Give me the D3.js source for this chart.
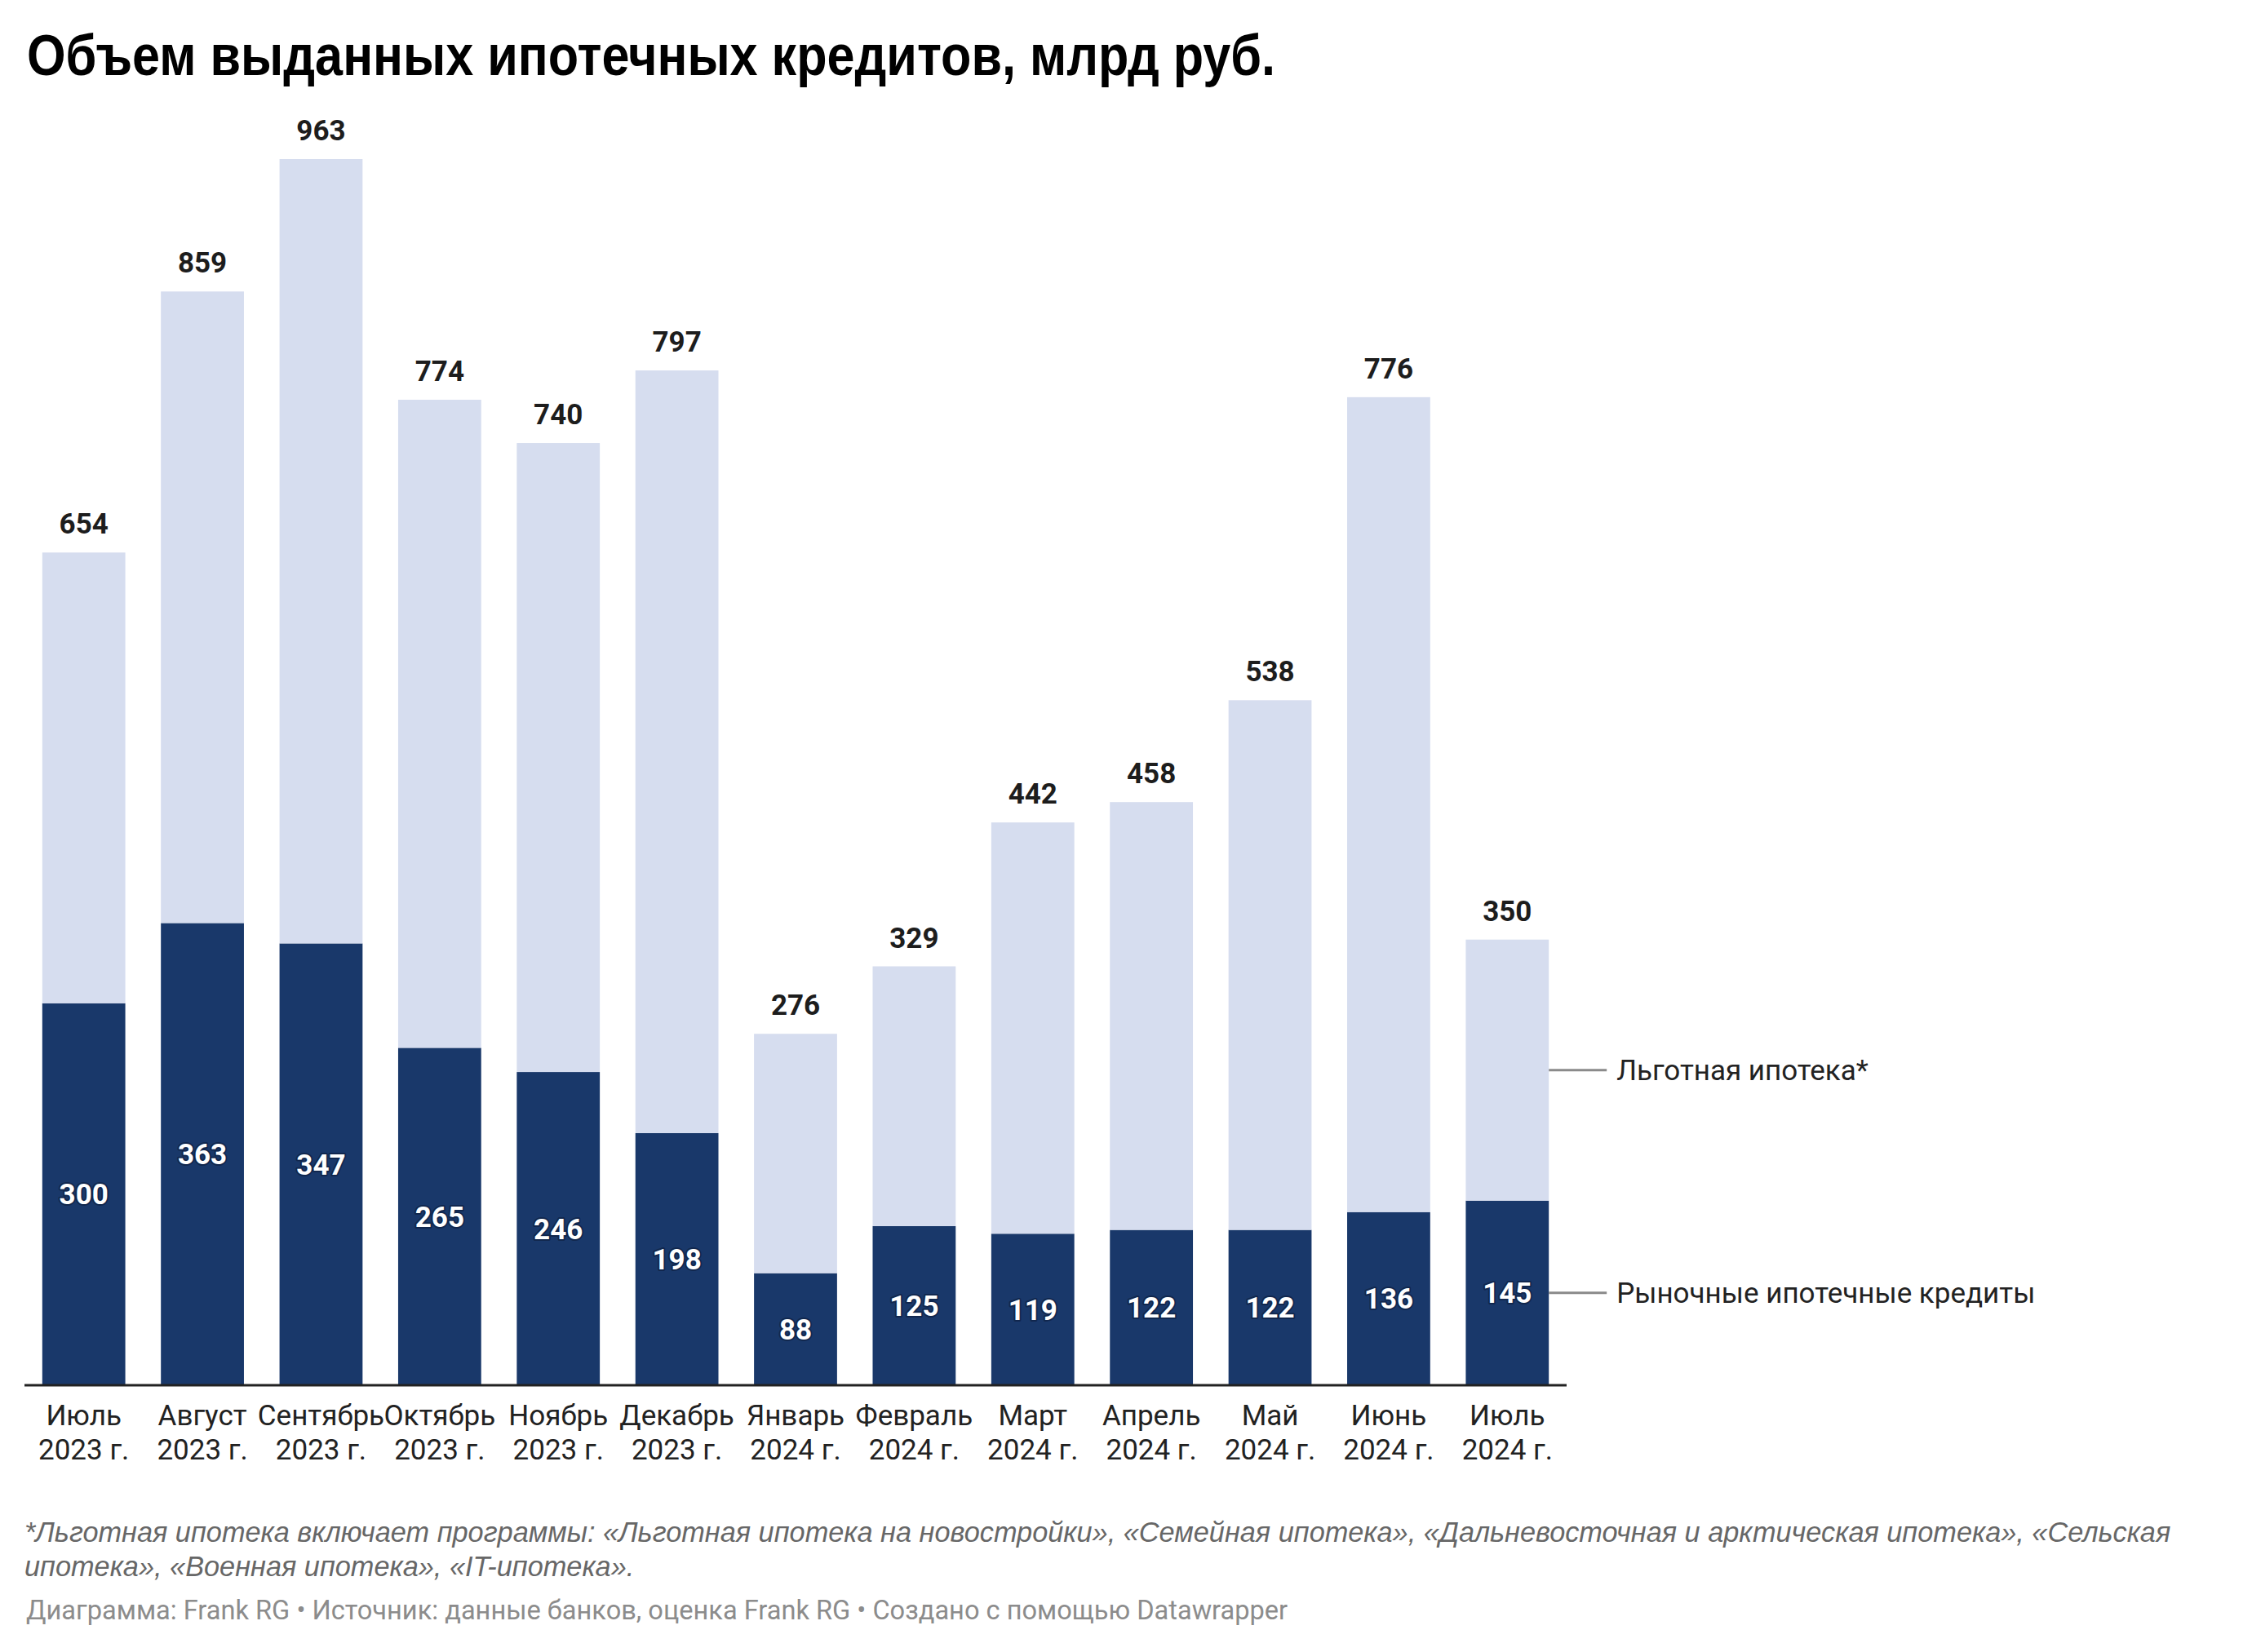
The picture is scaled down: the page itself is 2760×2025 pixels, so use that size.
<!DOCTYPE html>
<html>
<head>
<meta charset="utf-8">
<script src="https://cdn.jsdelivr.net/npm/d3@7"></script>
<style>
  html, body { margin: 0; padding: 0; background: #fff; }
  svg { display: block; }
  .inlabel { paint-order: stroke; }
</style>
</head>
<body>
<svg id="chart" width="2760" height="2025"></svg>
<script>
// ---- data ----
const months = ["Июль","Август","Сентябрь","Октябрь","Ноябрь","Декабрь","Январь","Февраль","Март","Апрель","Май","Июнь","Июль"];
const years  = ["2023 г.","2023 г.","2023 г.","2023 г.","2023 г.","2023 г.","2024 г.","2024 г.","2024 г.","2024 г.","2024 г.","2024 г.","2024 г."];
const market       = [300, 363, 347, 265, 246, 198, 88, 125, 119, 122, 122, 136, 145];
const preferential = [354, 496, 616, 509, 494, 599, 188, 204, 323, 336, 416, 640, 205];
const seriesNames  = ["Рыночные ипотечные кредиты", "Льготная ипотека*"];
const seriesColors = ["#19386a", "#d6ddef"];
const titleText = "Объем выданных ипотечных кредитов, млрд руб.";
const noteLines = [
  "*Льготная ипотека включает программы: «Льготная ипотека на новостройки», «Семейная ипотека», «Дальневосточная и арктическая ипотека», «Сельская",
  "ипотека», «Военная ипотека», «IT-ипотека»."
];
const sourceText = "Диаграмма: Frank RG • Источник: данные банков, оценка Frank RG • Создано с помощью Datawrapper";

// ---- layout ----
const svg = d3.select("#chart");
const plot = { left: 30, right: 1920, top: 195, bottom: 1698 };

const rows = months.map((m, i) => ({ key: i, month: m, year: years[i], market: market[i], preferential: preferential[i] }));
const stacked = d3.stack().keys(["market", "preferential"])(rows);
const totals = rows.map(r => r.market + r.preferential);

const x = d3.scaleBand().domain(rows.map(r => r.key)).range([plot.left, plot.right])
  .paddingInner(0.3).paddingOuter(0.15);
const y = d3.scaleLinear().domain([0, d3.max(totals)]).range([plot.bottom, plot.top]);

// title
svg.append("text")
  .attr("x", 33).attr("y", 92)
  .attr("font-family", "'Liberation Sans', Arial, sans-serif")
  .attr("font-weight", 700).attr("font-size", 71)
  .attr("fill", "#000")
  .attr("textLength", 1530).attr("lengthAdjust", "spacingAndGlyphs")
  .text(titleText);

// bars
svg.append("g").selectAll("g.layer").data(stacked).join("g")
  .attr("class", "layer")
  .attr("fill", (d, i) => seriesColors[i])
  .selectAll("rect").data(d => d).join("rect")
  .attr("x", d => x(d.data.key))
  .attr("width", x.bandwidth())
  .attr("y", d => y(d[1]))
  .attr("height", d => y(d[0]) - y(d[1]));

// total labels
svg.append("g").selectAll("text").data(rows).join("text")
  .attr("x", d => x(d.key) + x.bandwidth() / 2)
  .attr("y", (d, i) => y(totals[i]) - 23)
  .attr("text-anchor", "middle")
  .attr("font-family", "Roboto, sans-serif")
  .attr("font-weight", 700).attr("font-size", 35)
  .attr("fill", "#1d1d1d")
  .text((d, i) => totals[i]);

// market labels inside dark segment
svg.append("g").selectAll("text").data(stacked[0]).join("text")
  .attr("class", "inlabel")
  .attr("x", d => x(d.data.key) + x.bandwidth() / 2)
  .attr("y", d => (y(d[0]) + y(d[1])) / 2)
  .attr("dy", "0.36em")
  .attr("text-anchor", "middle")
  .attr("font-family", "Roboto, sans-serif")
  .attr("font-weight", 700).attr("font-size", 35)
  .attr("fill", "#fff")
  .attr("stroke", "rgba(10,25,55,0.55)").attr("stroke-width", 4).attr("stroke-linejoin", "round")
  .text(d => d.data.market);

// x axis baseline
const xAxis = d3.axisBottom(x).tickSize(0).tickFormat("");
const axG = svg.append("g").attr("transform", `translate(0,${plot.bottom})`).call(xAxis);
axG.select(".domain").attr("stroke", "#222").attr("stroke-width", 3)
  .attr("d", `M${plot.left},0H${plot.right}`);

// x labels (two lines)
const xl = svg.append("g").selectAll("text").data(rows).join("text")
  .attr("text-anchor", "middle")
  .attr("font-family", "Roboto, sans-serif")
  .attr("font-size", 35)
  .attr("fill", "#222");
xl.append("tspan").attr("x", d => x(d.key) + x.bandwidth() / 2).attr("y", 1747).text(d => d.month);
xl.append("tspan").attr("x", d => x(d.key) + x.bandwidth() / 2).attr("y", 1789).text(d => d.year);

// direct legend labels at last bar
const last = rows.length - 1;
const legG = svg.append("g");
stacked.forEach((layer, i) => {
  const d = layer[last];
  const ym = (y(d[0]) + y(d[1])) / 2;
  const x0 = x(last) + x.bandwidth();
  legG.append("line")
    .attr("x1", x0).attr("x2", x0 + 71)
    .attr("y1", ym).attr("y2", ym)
    .attr("stroke", "#8a8a8a").attr("stroke-width", 3);
  legG.append("text")
    .attr("x", x0 + 83).attr("y", ym).attr("dy", "0.36em")
    .attr("font-family", "Roboto, sans-serif")
    .attr("font-size", 35).attr("fill", "#222")
    .text(seriesNames[i]);
});

// footnote
function fitFont(sel, target) {
  const w = sel.node().getComputedTextLength();
  const fs = parseFloat(sel.attr("font-size"));
  return fs * target / w;
}
const n1 = svg.append("text")
  .attr("x", 30).attr("y", 1890)
  .attr("font-family", "'Liberation Sans', Arial, sans-serif")
  .attr("font-style", "italic").attr("font-size", 34).attr("fill", "#676767")
  .text(noteLines[0]);
const nfs = fitFont(n1, 2631);
n1.attr("font-size", nfs);
svg.append("text")
  .attr("x", 30).attr("y", 1932)
  .attr("font-family", "'Liberation Sans', Arial, sans-serif")
  .attr("font-style", "italic").attr("font-size", nfs).attr("fill", "#676767")
  .text(noteLines[1]);

const src = svg.append("text")
  .attr("x", 32).attr("y", 1985)
  .attr("font-family", "Roboto, sans-serif")
  .attr("font-size", 31).attr("fill", "#8c8c8c")
  .text(sourceText);
src.attr("font-size", fitFont(src, 1547));
</script>
</body>
</html>
